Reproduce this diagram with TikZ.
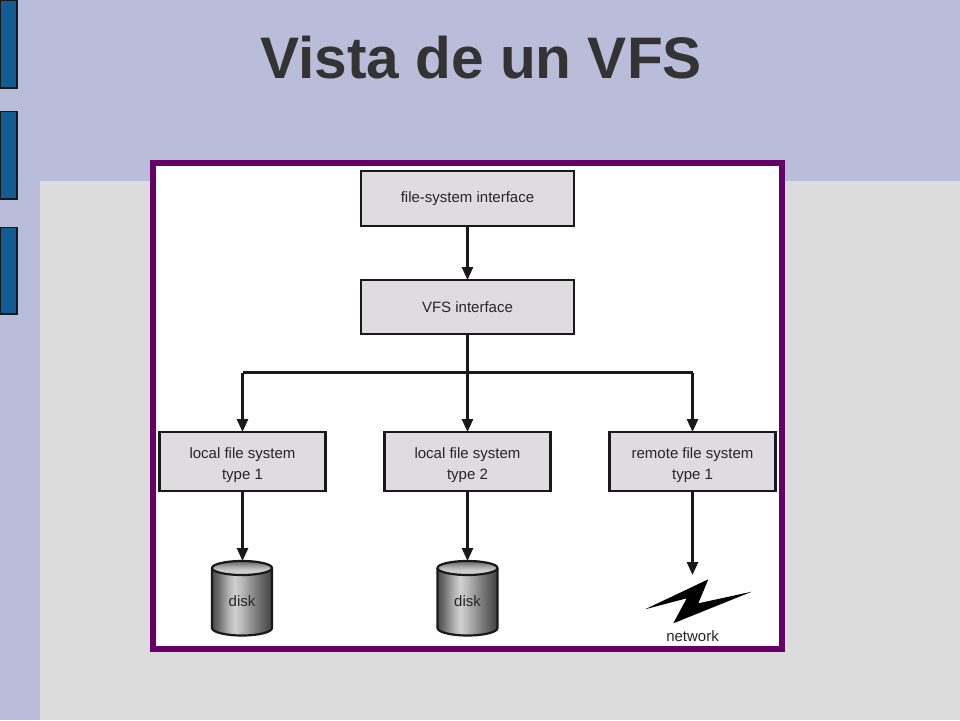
\documentclass[tikz,border=0pt]{standalone}
\usepackage{fontspec}
\setmainfont{Liberation Sans}
\usetikzlibrary{arrows.meta}
\definecolor{lav}{HTML}{B9BDD9}
\definecolor{pale}{HTML}{DCDCDC}
\definecolor{frame}{HTML}{660066}
\definecolor{barblue}{HTML}{115C92}
\definecolor{boxfill}{HTML}{DEDCDF}
\definecolor{ink}{HTML}{252525}
\pgfdeclarehorizontalshading{diskbody}{100bp}{
  color(0bp)=(black!70); color(25bp)=(black!70); color(30bp)=(black!58); color(38bp)=(black!32);
  color(44bp)=(black!18); color(50bp)=(black!28); color(62bp)=(black!52); color(75bp)=(black!75); color(100bp)=(black!75)}
\pgfdeclareverticalshading{disktop}{100bp}{
  color(0bp)=(black!15); color(25bp)=(black!15); color(45bp)=(black!22); color(60bp)=(black!40); color(75bp)=(black!62); color(100bp)=(black!62)}
\tikzset{
  sidebar/.style={fill=barblue,draw=black!90,line width=1.2pt},
  fsbox/.style={draw=black!90,line width=2.4pt,fill=boxfill,text=ink,font=\fontsize{15}{21}\selectfont,
    align=center,inner sep=0pt,outer sep=0pt},
  conn/.style={line width=2.6pt,draw=black!90},
  flow/.style={conn,-{Triangle[length=13pt,width=11pt]}},
  disklabel/.style={text=ink,font=\fontsize{15}{17}\selectfont,inner sep=0pt},
  diskedge/.style={draw=black!90,line width=2.2pt},
}
\newcommand{\diskat}[1]{% centre x
  \path[shade,shading=diskbody] (#1-30,568) -- (#1-30,628) arc[start angle=180,end angle=0,x radius=30,y radius=7.5] -- (#1+30,568) -- cycle;
  \draw[diskedge] (#1-30,568) -- (#1-30,628) arc[start angle=180,end angle=0,x radius=30,y radius=7.5] -- (#1+30,568);
  \path[shade,shading=disktop] (#1,568) ellipse[x radius=30,y radius=7];
  \draw[diskedge] (#1,568) ellipse[x radius=30,y radius=7];
}
\newcommand{\lowr}{\rule{0pt}{19pt}}
\begin{document}
\begin{tikzpicture}[x=1pt,y=-1pt]
\useasboundingbox (0,0) rectangle (960,720);
\fill[lav] (0,0) rectangle (960,720);
\fill[pale] (40,181) rectangle (960,720);
\draw[sidebar] (0.6,0.6) rectangle (17,88);
\draw[sidebar] (0.6,111.5) rectangle (17,199);
\draw[sidebar] (0.6,227.5) rectangle (17,314);
\node[font=\bfseries\fontsize{58.6}{60}\selectfont,text=black!80,inner sep=0pt] (title) at (481,58) {Vista de un VFS};
\draw[frame,fill=white,line width=6pt] (153,163) rectangle (782,649);

\node[fsbox,minimum width=213pt,minimum height=55pt] (fsi) at (467.5,198.5) {file-system interface};
\node[fsbox,minimum width=213pt,minimum height=54pt] (vfs) at (467.5,307) {VFS interface};
\node[fsbox,minimum width=166pt,minimum height=59pt] (l1) at (242.5,461.5) {\lowr local file system\\type 1};
\node[fsbox,minimum width=166pt,minimum height=59pt] (l2) at (467.5,461.5) {\lowr local file system\\type 2};
\node[fsbox,minimum width=166pt,minimum height=59pt] (r1) at (692.5,461.5) {\lowr remote file system\\type 1};

\diskat{242}
\diskat{467.5}
\node[disklabel] (d1) at (242,601.5) {disk};
\node[disklabel] (d2) at (467.5,601.5) {disk};
\coordinate (d1top) at (242.5,561);
\coordinate (d2top) at (467.5,561);
\coordinate (nettop) at (692.5,575);
\coordinate (busl) at (242.5,372.5);
\coordinate (busr) at (692.5,372.5);

\fill[black] (645,609.3) -- (708.3,579.3) -- (698.3,603.3) -- (751.7,591.7) -- (673.3,623.3) -- (686.7,598.3) -- cycle;
\node[disklabel] (net) at (692.5,636.5) {network};

\draw[flow] (fsi.south) -- (vfs.north);
\draw[flow] (vfs.south) -- (l2.north);
\draw[conn] (busl) -- (busr);
\draw[flow] (busl) -- (l1.north);
\draw[flow] (busr) -- (r1.north);
\draw[flow] (l1.south) -- (d1top);
\draw[flow] (l2.south) -- (d2top);
\draw[flow] (r1.south) -- (nettop);
\end{tikzpicture}
\end{document}
